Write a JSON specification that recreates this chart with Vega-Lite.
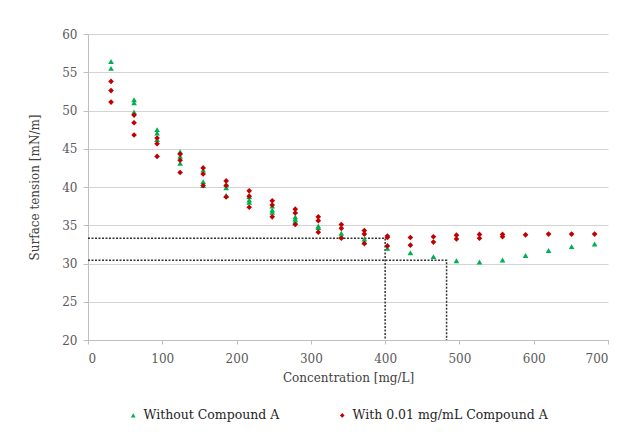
{
  "$schema": "https://vega.github.io/schema/vega-lite/v6.json",
  "width": 520,
  "height": 306,
  "autosize": "none",
  "padding": {"left": 88, "top": 34, "right": 27, "bottom": 92},
  "background": "white",
  "config": {"font": "DejaVu Serif", "view": {"stroke": null}},
  "datasets": {
    "guides": [
      {"g": "a", "o": 1, "x": 0, "y": 33.3},
      {"g": "a", "o": 2, "x": 400, "y": 33.3},
      {"g": "a", "o": 3, "x": 400, "y": 20},
      {"g": "b", "o": 1, "x": 0, "y": 30.43},
      {"g": "b", "o": 2, "x": 482.7, "y": 30.43},
      {"g": "b", "o": 3, "x": 482.7, "y": 20}
    ],
    "points": [
      {"s": "Without Compound A", "c": 31, "t": 56.4},
      {"s": "Without Compound A", "c": 31, "t": 55.5},
      {"s": "With 0.01 mg/mL Compound A", "c": 31, "t": 53.8},
      {"s": "With 0.01 mg/mL Compound A", "c": 31, "t": 52.6},
      {"s": "With 0.01 mg/mL Compound A", "c": 31, "t": 51.1},
      {"s": "Without Compound A", "c": 62, "t": 51.4},
      {"s": "Without Compound A", "c": 62, "t": 51.0},
      {"s": "Without Compound A", "c": 62, "t": 49.8},
      {"s": "With 0.01 mg/mL Compound A", "c": 62, "t": 49.4},
      {"s": "With 0.01 mg/mL Compound A", "c": 62, "t": 48.4},
      {"s": "With 0.01 mg/mL Compound A", "c": 62, "t": 46.8},
      {"s": "Without Compound A", "c": 93, "t": 47.5},
      {"s": "Without Compound A", "c": 93, "t": 47.05},
      {"s": "Without Compound A", "c": 93, "t": 46.2},
      {"s": "With 0.01 mg/mL Compound A", "c": 93, "t": 46.4},
      {"s": "With 0.01 mg/mL Compound A", "c": 93, "t": 45.65},
      {"s": "With 0.01 mg/mL Compound A", "c": 93, "t": 44.0},
      {"s": "Without Compound A", "c": 124, "t": 44.6},
      {"s": "Without Compound A", "c": 124, "t": 44.0},
      {"s": "Without Compound A", "c": 124, "t": 43.1},
      {"s": "With 0.01 mg/mL Compound A", "c": 124, "t": 44.3},
      {"s": "With 0.01 mg/mL Compound A", "c": 124, "t": 43.5},
      {"s": "With 0.01 mg/mL Compound A", "c": 124, "t": 41.9},
      {"s": "Without Compound A", "c": 155, "t": 42.2},
      {"s": "Without Compound A", "c": 155, "t": 40.7},
      {"s": "Without Compound A", "c": 155, "t": 40.2},
      {"s": "With 0.01 mg/mL Compound A", "c": 155, "t": 42.5},
      {"s": "With 0.01 mg/mL Compound A", "c": 155, "t": 41.7},
      {"s": "With 0.01 mg/mL Compound A", "c": 155, "t": 40.2},
      {"s": "Without Compound A", "c": 186, "t": 40.3},
      {"s": "Without Compound A", "c": 186, "t": 39.9},
      {"s": "Without Compound A", "c": 186, "t": 38.9},
      {"s": "With 0.01 mg/mL Compound A", "c": 186, "t": 40.8},
      {"s": "With 0.01 mg/mL Compound A", "c": 186, "t": 40.2},
      {"s": "With 0.01 mg/mL Compound A", "c": 186, "t": 38.7},
      {"s": "Without Compound A", "c": 217, "t": 38.75},
      {"s": "Without Compound A", "c": 217, "t": 38.3},
      {"s": "Without Compound A", "c": 217, "t": 38.0},
      {"s": "With 0.01 mg/mL Compound A", "c": 217, "t": 39.5},
      {"s": "With 0.01 mg/mL Compound A", "c": 217, "t": 38.8},
      {"s": "With 0.01 mg/mL Compound A", "c": 217, "t": 37.35},
      {"s": "Without Compound A", "c": 248, "t": 37.5},
      {"s": "Without Compound A", "c": 248, "t": 37.0},
      {"s": "Without Compound A", "c": 248, "t": 36.7},
      {"s": "With 0.01 mg/mL Compound A", "c": 248, "t": 38.2},
      {"s": "With 0.01 mg/mL Compound A", "c": 248, "t": 37.65},
      {"s": "With 0.01 mg/mL Compound A", "c": 248, "t": 36.1},
      {"s": "Without Compound A", "c": 279, "t": 36.1},
      {"s": "Without Compound A", "c": 279, "t": 35.8},
      {"s": "Without Compound A", "c": 279, "t": 35.5},
      {"s": "With 0.01 mg/mL Compound A", "c": 279, "t": 37.1},
      {"s": "With 0.01 mg/mL Compound A", "c": 279, "t": 36.6},
      {"s": "With 0.01 mg/mL Compound A", "c": 279, "t": 35.1},
      {"s": "Without Compound A", "c": 310, "t": 34.9},
      {"s": "Without Compound A", "c": 310, "t": 34.7},
      {"s": "With 0.01 mg/mL Compound A", "c": 310, "t": 36.1},
      {"s": "With 0.01 mg/mL Compound A", "c": 310, "t": 35.6},
      {"s": "With 0.01 mg/mL Compound A", "c": 310, "t": 34.1},
      {"s": "Without Compound A", "c": 341, "t": 33.95},
      {"s": "Without Compound A", "c": 341, "t": 33.6},
      {"s": "With 0.01 mg/mL Compound A", "c": 341, "t": 35.1},
      {"s": "With 0.01 mg/mL Compound A", "c": 341, "t": 34.6},
      {"s": "With 0.01 mg/mL Compound A", "c": 341, "t": 33.3},
      {"s": "Without Compound A", "c": 372, "t": 33.2},
      {"s": "Without Compound A", "c": 372, "t": 32.8},
      {"s": "With 0.01 mg/mL Compound A", "c": 372, "t": 34.3},
      {"s": "With 0.01 mg/mL Compound A", "c": 372, "t": 33.85},
      {"s": "With 0.01 mg/mL Compound A", "c": 372, "t": 32.6},
      {"s": "Without Compound A", "c": 403, "t": 32.0},
      {"s": "With 0.01 mg/mL Compound A", "c": 403, "t": 33.6},
      {"s": "With 0.01 mg/mL Compound A", "c": 403, "t": 33.4},
      {"s": "With 0.01 mg/mL Compound A", "c": 403, "t": 32.3},
      {"s": "Without Compound A", "c": 434, "t": 31.4},
      {"s": "With 0.01 mg/mL Compound A", "c": 434, "t": 33.4},
      {"s": "With 0.01 mg/mL Compound A", "c": 434, "t": 32.4},
      {"s": "Without Compound A", "c": 465, "t": 30.9},
      {"s": "With 0.01 mg/mL Compound A", "c": 465, "t": 33.5},
      {"s": "With 0.01 mg/mL Compound A", "c": 465, "t": 32.8},
      {"s": "Without Compound A", "c": 496, "t": 30.35},
      {"s": "With 0.01 mg/mL Compound A", "c": 496, "t": 33.7},
      {"s": "With 0.01 mg/mL Compound A", "c": 496, "t": 33.2},
      {"s": "Without Compound A", "c": 527, "t": 30.2},
      {"s": "With 0.01 mg/mL Compound A", "c": 527, "t": 33.8},
      {"s": "With 0.01 mg/mL Compound A", "c": 527, "t": 33.3},
      {"s": "Without Compound A", "c": 558, "t": 30.45},
      {"s": "With 0.01 mg/mL Compound A", "c": 558, "t": 33.8},
      {"s": "With 0.01 mg/mL Compound A", "c": 558, "t": 33.5},
      {"s": "Without Compound A", "c": 589, "t": 31.05},
      {"s": "With 0.01 mg/mL Compound A", "c": 589, "t": 33.75},
      {"s": "Without Compound A", "c": 620, "t": 31.7},
      {"s": "With 0.01 mg/mL Compound A", "c": 620, "t": 33.85},
      {"s": "Without Compound A", "c": 651, "t": 32.2},
      {"s": "With 0.01 mg/mL Compound A", "c": 651, "t": 33.85},
      {"s": "Without Compound A", "c": 682, "t": 32.55},
      {"s": "With 0.01 mg/mL Compound A", "c": 682, "t": 33.85}
    ]
  },
  "layer": [
    {
      "data": {"name": "guides"},
      "mark": {"type": "line", "strokeDash": [2, 1.5], "color": "#333333", "strokeWidth": 1.5},
      "encoding": {
        "x": {"field": "x", "type": "quantitative", "scale": {"domain": [0, 700]}},
        "y": {"field": "y", "type": "quantitative", "scale": {"domain": [20, 60]}},
        "detail": {"field": "g"},
        "order": {"field": "o"}
      }
    },
    {
      "data": {"name": "points"},
      "mark": {"type": "point", "filled": true, "size": 32, "opacity": 1},
      "encoding": {
        "x": {
          "field": "c", "type": "quantitative",
          "scale": {"domain": [0, 700], "nice": false},
          "axis": {
            "title": "Concentration [mg/L]",
            "values": [0, 100, 200, 300, 400, 500, 600, 700],
            "labelOverlap": false,
            "grid": false,
            "domainColor": "#bfbfbf",
            "tickColor": "#bfbfbf",
            "tickSize": 4,
            "labelColor": "#595959",
            "labelFont": "DejaVu Serif",
            "labelFontSize": 12,
            "labelPadding": 9,
            "titleFont": "DejaVu Serif",
            "titleFontSize": 12,
            "titleFontWeight": "normal",
            "titleColor": "#404040",
            "titlePadding": 8
          }
        },
        "y": {
          "field": "t", "type": "quantitative",
          "scale": {"domain": [20, 60], "nice": false, "zero": false},
          "axis": {
            "title": "Surface tension [mN/m]",
            "values": [20, 25, 30, 35, 40, 45, 50, 55, 60],
            "labelOverlap": false,
            "tickCount": 9,
            "grid": true,
            "gridColor": "#d4d4d4",
            "gridWidth": 1.2,
            "domainColor": "#bfbfbf",
            "tickColor": "#bfbfbf",
            "tickSize": 5,
            "labelColor": "#595959",
            "labelFont": "DejaVu Serif",
            "labelFontSize": 12,
            "labelPadding": 6,
            "titleFont": "DejaVu Serif",
            "titleFontSize": 12,
            "titleFontWeight": "normal",
            "titleColor": "#404040",
            "titlePadding": 20
          }
        },
        "color": {
          "field": "s", "type": "nominal",
          "scale": {"domain": ["Without Compound A", "With 0.01 mg/mL Compound A"], "range": ["#00b050", "#c00000"]},
          "legend": {
            "title": null,
            "orient": "none",
            "legendX": 39,
            "legendY": 375,
            "direction": "horizontal",
            "labelFont": "DejaVu Serif",
            "labelFontSize": 12.5,
            "labelColor": "#262626",
            "symbolSize": 22,
            "columnPadding": 56,
            "labelLimit": 300
          }
        },
        "shape": {
          "field": "s", "type": "nominal",
          "scale": {"domain": ["Without Compound A", "With 0.01 mg/mL Compound A"], "range": ["triangle-up", "diamond"]}
        }
      }
    }
  ]
}
